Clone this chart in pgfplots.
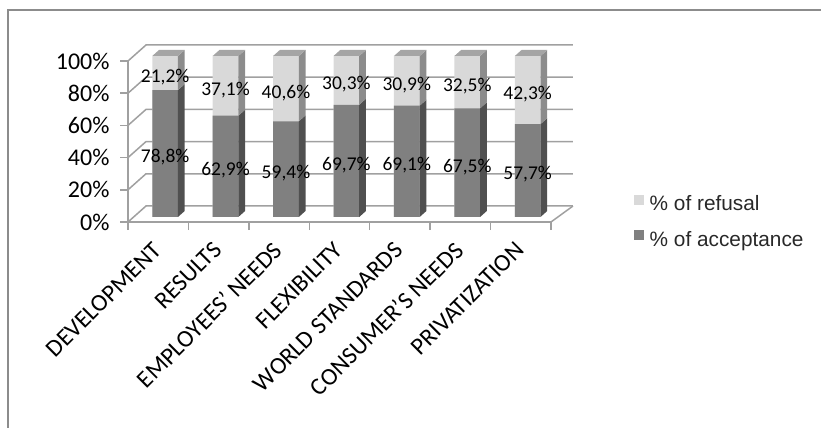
\documentclass[border=0pt]{standalone}
\usepackage{pgfplots}
\pgfplotsset{compat=1.18}
\usepackage{pgfplotstable}
\usepackage{fontspec}
\setmainfont{Carlito}
\newfontfamily\legfont{Liberation Sans}

\definecolor{gridgray}{RGB}{160,160,160}
\definecolor{framegray}{RGB}{140,140,140}
\definecolor{accfront}{RGB}{128,128,128}
\definecolor{accside}{RGB}{80,80,80}
\definecolor{reffront}{RGB}{217,217,217}
\definecolor{refside}{RGB}{140,140,140}
\definecolor{reftop}{RGB}{165,165,165}
\definecolor{legtext}{RGB}{40,40,40}

\pgfplotstableread{
x acc ref
0 78.8 21.2
1 62.9 37.1
2 59.4 40.6
3 69.7 30.3
4 69.1 30.9
5 67.5 32.5
6 57.7 42.3
}\maintable

\begin{document}
\begin{tikzpicture}
\useasboundingbox (0,0) rectangle (821bp,428bp);
\draw[framegray, line width=2bp] (8bp,0) -- (8bp,417.5bp) -- (821bp,417.5bp);

% front plane / walls
\begin{axis}[
  at={(128bp,206bp)}, anchor=south west, scale only axis,
  width=423bp, height=161bp,
  xmin=-0.5, xmax=6.5, ymin=0, ymax=100, clip=false,
  axis x line*=bottom, axis y line*=left,
  axis line style={draw=gridgray, line width=1.5bp, -},
  tick style={draw=gridgray, line width=1.5bp},
  tick align=outside, major tick length=8bp,
  ytick={0,20,...,100},
  yticklabels={0\%,20\%,40\%,60\%,80\%,100\%},
  yticklabel style={xshift=-7bp, font=\fontsize{24bp}{28bp}\selectfont, text=black},
  xtick={-0.5,0.5,...,6.5},
  xticklabel={\relax},
  extra x ticks={0,1,...,6},
  extra x tick labels={DEVELOPMENT,RESULTS,EMPLOYEES' NEEDS,FLEXIBILITY,WORLD STANDARDS,CONSUMER'S NEEDS,PRIVATIZATION},
  extra x tick style={tick style={draw=none},
    xticklabel style={xshift=-1bp, yshift=-16bp, rotate=45, anchor=east, inner sep=0pt,
      font=\fontsize{24.3bp}{28bp}\selectfont, text=black}},
]
\pgfplotsinvokeforeach{0,20,...,100}{
  \draw[gridgray, line width=1.5bp] (axis cs:-0.5,#1) -- ([shift={(18bp,16bp)}]axis cs:-0.5,#1) -- ([shift={(22bp,16bp)}]axis cs:6.5,#1);
}
\draw[gridgray, line width=1.5bp] (axis cs:6.5,0) -- ([shift={(22bp,16bp)}]axis cs:6.5,0);
\end{axis}

% bars
\begin{axis}[
  at={(134.9bp,211bp)}, anchor=south west, scale only axis,
  width=423bp, height=161bp,
  xmin=-0.5, xmax=6.5, ymin=0, ymax=100, clip=false,
  hide axis,
  legend cell align=left,
  legend style={at={(axis description cs:1.180,-0.028)}, anchor=west,
    draw=none, fill=none, inner sep=0pt, row sep=14bp,
    font=\legfont\fontsize{20.8bp}{24bp}\selectfont, text=legtext,
    nodes={inner sep=2.5bp},
    /tikz/every odd column/.append style={column sep=3bp}},
]
\addplot[ybar, bar width=0.425, bar shift=0pt, fill=reffront, draw=none,
  legend image code/.code={\fill[reffront] (0bp,-1bp) rectangle (10bp,9bp);}]
  table[x=x, y expr=\thisrow{acc}+\thisrow{ref}]{\maintable};
\addlegendentry{\% of refusal}
\addplot[ybar, bar width=0.425, bar shift=0pt, fill=accfront, draw=none,
  legend image code/.code={\fill[accfront] (0bp,-1bp) rectangle (10bp,9bp);}]
  table[x=x, y=acc]{\maintable};
\addlegendentry{\% of acceptance}

\pgfplotsinvokeforeach{0,...,6}{
  \pgfplotstablegetelem{#1}{acc}\of\maintable
  \let\va\pgfplotsretval
  \pgfmathsetmacro\xl{#1-0.2125}
  \pgfmathsetmacro\xr{#1+0.2125}
  \pgfmathsetmacro\xrr{#1+0.2125+0.111}
  \pgfmathsetmacro\xll{#1-0.2125+0.111}
  \pgfmathsetmacro\vad{\va+3.73}
  \addplot[fill=accside, draw=none, forget plot] coordinates {(\xr,0) (\xrr,3.73) (\xrr,\vad) (\xr,\va)} -- cycle;
  \addplot[fill=refside, draw=none, forget plot] coordinates {(\xr,\va) (\xrr,\vad) (\xrr,103.73) (\xr,100)} -- cycle;
  \addplot[fill=reftop, draw=none, forget plot] coordinates {(\xl,100) (\xr,100) (\xrr,103.73) (\xll,103.73)} -- cycle;
}

\addplot[draw=none, mark=none, forget plot, point meta=explicit,
  nodes near coords={\pgfmathprintnumber[fixed,fixed zerofill,precision=1,use comma,assume math mode=true]{\pgfplotspointmeta}\%},
  every node near coord/.style={anchor=center, text=black, inner sep=0pt,
    font=\fontsize{19.5bp}{22bp}\selectfont, yshift=-4bp}]
  table[x=x, y expr=\thisrow{acc}/2, meta=acc]{\maintable};
\addplot[draw=none, mark=none, forget plot, point meta=explicit,
  nodes near coords={\pgfmathprintnumber[fixed,fixed zerofill,precision=1,use comma,assume math mode=true]{\pgfplotspointmeta}\%},
  every node near coord/.style={anchor=center, text=black, inner sep=0pt,
    font=\fontsize{19.5bp}{22bp}\selectfont, yshift=-4bp}]
  table[x=x, y expr=\thisrow{acc}+\thisrow{ref}/2, meta=ref]{\maintable};
\end{axis}
\end{tikzpicture}
\end{document}
